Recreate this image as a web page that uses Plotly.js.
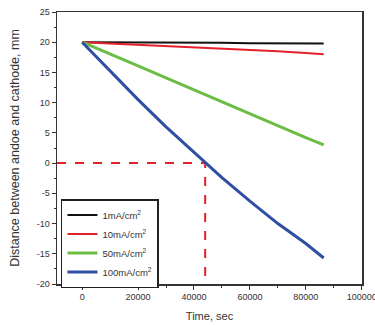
<!DOCTYPE html>
<html>
<head>
<meta charset="utf-8">
<script src="https://cdn.plot.ly/plotly-3.0.1.min.js"></script>
<style>html,body{margin:0;padding:0;background:#fff;}#chart{width:375px;height:325px;}</style>
</head>
<body>
<div id="chart"></div>
<script>
// Time, sec
var timeSec = [0, 10000, 20000, 30000, 40000, 50000, 60000, 70000, 80000, 86400];
// Distance between anode and cathode, mm
var d1mA   = [20, 20, 20, 19.95, 19.9, 19.9, 19.85, 19.85, 19.8, 19.8];
var d10mA  = [20, 19.8, 19.6, 19.4, 19.2, 19.0, 18.7, 18.5, 18.2, 18.0];
var d50mA  = [20, 18.1, 16.1, 14.1, 12.1, 10.1, 8.1, 6.1, 4.2, 3.0];
var d100mA = [20, 15.2, 10.5, 6.0, 1.8, -2.4, -6.3, -10.0, -13.3, -15.7];
var seriesNames = ['1mA/cm<sup>2</sup>', '10mA/cm<sup>2</sup>', '50mA/cm<sup>2</sup>', '100mA/cm<sup>2</sup>'];
// red dashed guide: zero-crossing of 100 mA/cm2 curve
var guideX = [-9000, 44000, 44000];
var guideY = [0, 0, -20];
var xTicks = [0, 20000, 40000, 60000, 80000, 100000];
var yTicks = [-20, -15, -10, -5, 0, 5, 10, 15, 20, 25];

var colors = ['#111111', '#e3212b', '#6cbd45', '#2f4fa3'];
var widths = [2, 2, 3, 3];
var series = [d1mA, d10mA, d50mA, d100mA];

var traces = [{
  x: guideX, y: guideY, mode: 'lines', showlegend: false, hoverinfo: 'skip', cliponaxis: false,
  line: {color: '#e3212b', width: 2, dash: 'dash'}
}];
series.forEach(function (s, i) {
  traces.push({x: timeSec, y: s, name: seriesNames[i], mode: 'lines',
    line: {color: colors[i], width: widths[i]}});
});

var ff = 'Arial, "Liberation Sans", sans-serif';
var layout = {
  width: 375, height: 325,
  margin: {l: 57, r: 13, t: 12, b: 41},
  paper_bgcolor: '#fff', plot_bgcolor: '#fff',
  font: {family: ff, size: 9, color: '#333'},
  showlegend: true,
  legend: {x: 0.013, y: 0.3125, xanchor: 'left', yanchor: 'top',
    bordercolor: '#222', borderwidth: 1.5, bgcolor: '#fff',
    font: {family: ff, size: 9.5, color: '#333'}, tracegroupgap: 0},
  xaxis: {
    range: [-9000, 100100], tickvals: xTicks, ticktext: xTicks.map(String),
    ticklabeloverflow: 'allow',
    ticks: 'outside', ticklen: 4, tickwidth: 1, tickcolor: '#333',
    minor: {dtick: 10000, tick0: 0, ticks: 'outside', ticklen: 2, tickcolor: '#333'},
    showline: true, linecolor: '#333', linewidth: 1.5, mirror: true,
    showgrid: false, zeroline: false,
    tickfont: {family: ff, size: 9, color: '#333'},
    title: {text: 'Time, sec', font: {family: ff, size: 11, color: '#333'}, standoff: 11}
  },
  yaxis: {
    range: [-20, 25], tickvals: yTicks, ticktext: yTicks.map(String),
    ticks: 'outside', ticklen: 4, tickwidth: 1, tickcolor: '#333',
    minor: {dtick: 2.5, tick0: 0, ticks: 'outside', ticklen: 2, tickcolor: '#333'},
    showline: true, linecolor: '#333', linewidth: 1.5, mirror: true,
    showgrid: false, zeroline: false,
    tickfont: {family: ff, size: 9, color: '#333'},
    title: {text: 'Distance between andoe and cathode, mm', font: {family: ff, size: 12.5, color: '#333'}, standoff: 14}
  }
};
Plotly.newPlot('chart', traces, layout, {displayModeBar: false, staticPlot: true});
</script>
</body>
</html>
